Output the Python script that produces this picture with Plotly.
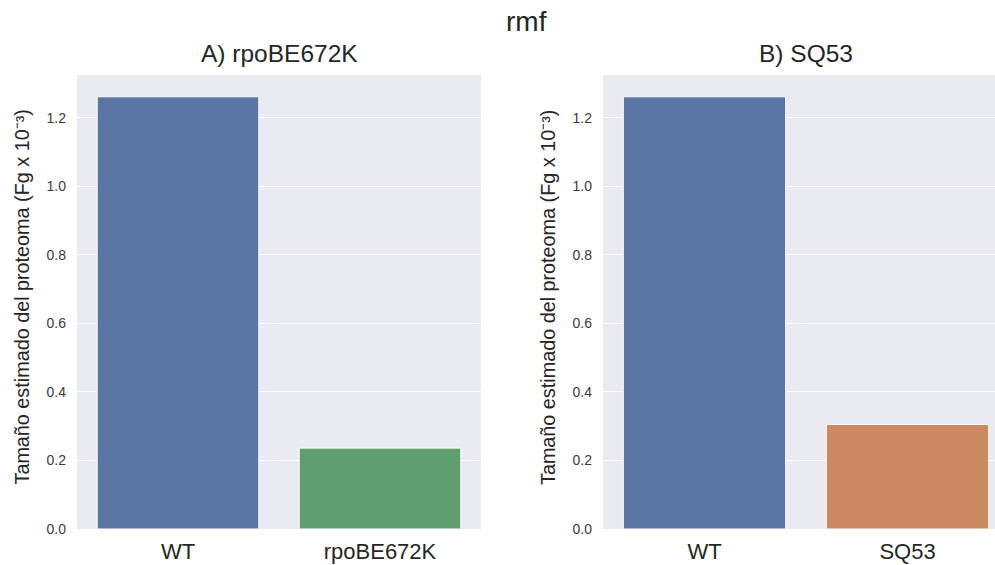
import plotly.graph_objects as go

# Data
categories_a = ["WT", "rpoBE672K"]
values_a = [1.261, 0.236]
categories_b = ["WT", "SQ53"]
values_b = [1.261, 0.305]
colors_a = ["#5975a4", "#5f9e6e"]
colors_b = ["#5975a4", "#cc8963"]
ytick_vals = [0.0, 0.2, 0.4, 0.6, 0.8, 1.0, 1.2]
ytick_text = ["0.0", "0.2", "0.4", "0.6", "0.8", "1.0", "1.2"]
suptitle = "rmf"
title_a = "A) rpoBE672K"
title_b = "B) SQ53"
ylabel = "Tamaño estimado del proteoma (Fg x 10⁻³)"

W, H = 995, 565
FONT = "Liberation Sans, Arial, sans-serif"

def px(x):
    return x / W

def py(y):
    return (H - y) / H

fig = go.Figure()
fig.add_trace(go.Bar(x=categories_a, y=values_a, marker=dict(color=colors_a, line=dict(color="white", width=1)),
                     width=0.8, xaxis="x", yaxis="y", showlegend=False))
fig.add_trace(go.Bar(x=categories_b, y=values_b, marker=dict(color=colors_b, line=dict(color="white", width=1)),
                     width=0.8, xaxis="x2", yaxis="y2", showlegend=False))

yrange = [0, 1.3245]
ycommon = dict(range=yrange, tickvals=ytick_vals, ticktext=ytick_text, showgrid=True, gridcolor="white",
               gridwidth=1.2, zeroline=False, showline=False, ticks="", ticklabelstandoff=10,
               automargin=False,
               tickfont=dict(family=FONT, size=14, color="#3b3b3b"))
xcommon = dict(showgrid=False, zeroline=False, showline=False, ticks="", ticklabelstandoff=7,
               automargin=False,
               tickfont=dict(family=FONT, size=22, color="#262626"))

ann_title = dict(xref="paper", yref="paper", xanchor="center", yanchor="bottom", showarrow=False)
ann_ylab = dict(xref="paper", yref="paper", xanchor="center", yanchor="middle", showarrow=False, textangle=-90,
                font=dict(family=FONT, size=19.8, color="#262626"))

fig.update_layout(
    width=W, height=H,
    margin=dict(l=0, r=0, t=0, b=0),
    paper_bgcolor="white",
    plot_bgcolor="#eaeaf2",
    bargap=0.2,
    xaxis=dict(domain=[px(77), px(481)], range=[-0.5, 1.5], anchor="y", **xcommon),
    yaxis=dict(domain=[py(529), py(75)], anchor="x", **ycommon),
    xaxis2=dict(domain=[px(603), 1.0], range=[-0.5, 1.5 - 14 / 203], anchor="y2", **xcommon),
    yaxis2=dict(domain=[py(529), py(75)], anchor="x2", **ycommon),
    annotations=[
        dict(text=suptitle, x=px(526.5), y=py(39), font=dict(family=FONT, size=28, color="#262626"), **ann_title),
        dict(text=title_a, x=px(279), y=py(69), font=dict(family=FONT, size=24.5, color="#262626"), **ann_title),
        dict(text=title_b, x=px(806), y=py(69), font=dict(family=FONT, size=24.5, color="#262626"), **ann_title),
        dict(text=ylabel, x=px(21), y=py(297.5), **ann_ylab),
        dict(text=ylabel, x=px(547.5), y=py(297.5), **ann_ylab),
    ],
)

fig.write_html("out.html")
